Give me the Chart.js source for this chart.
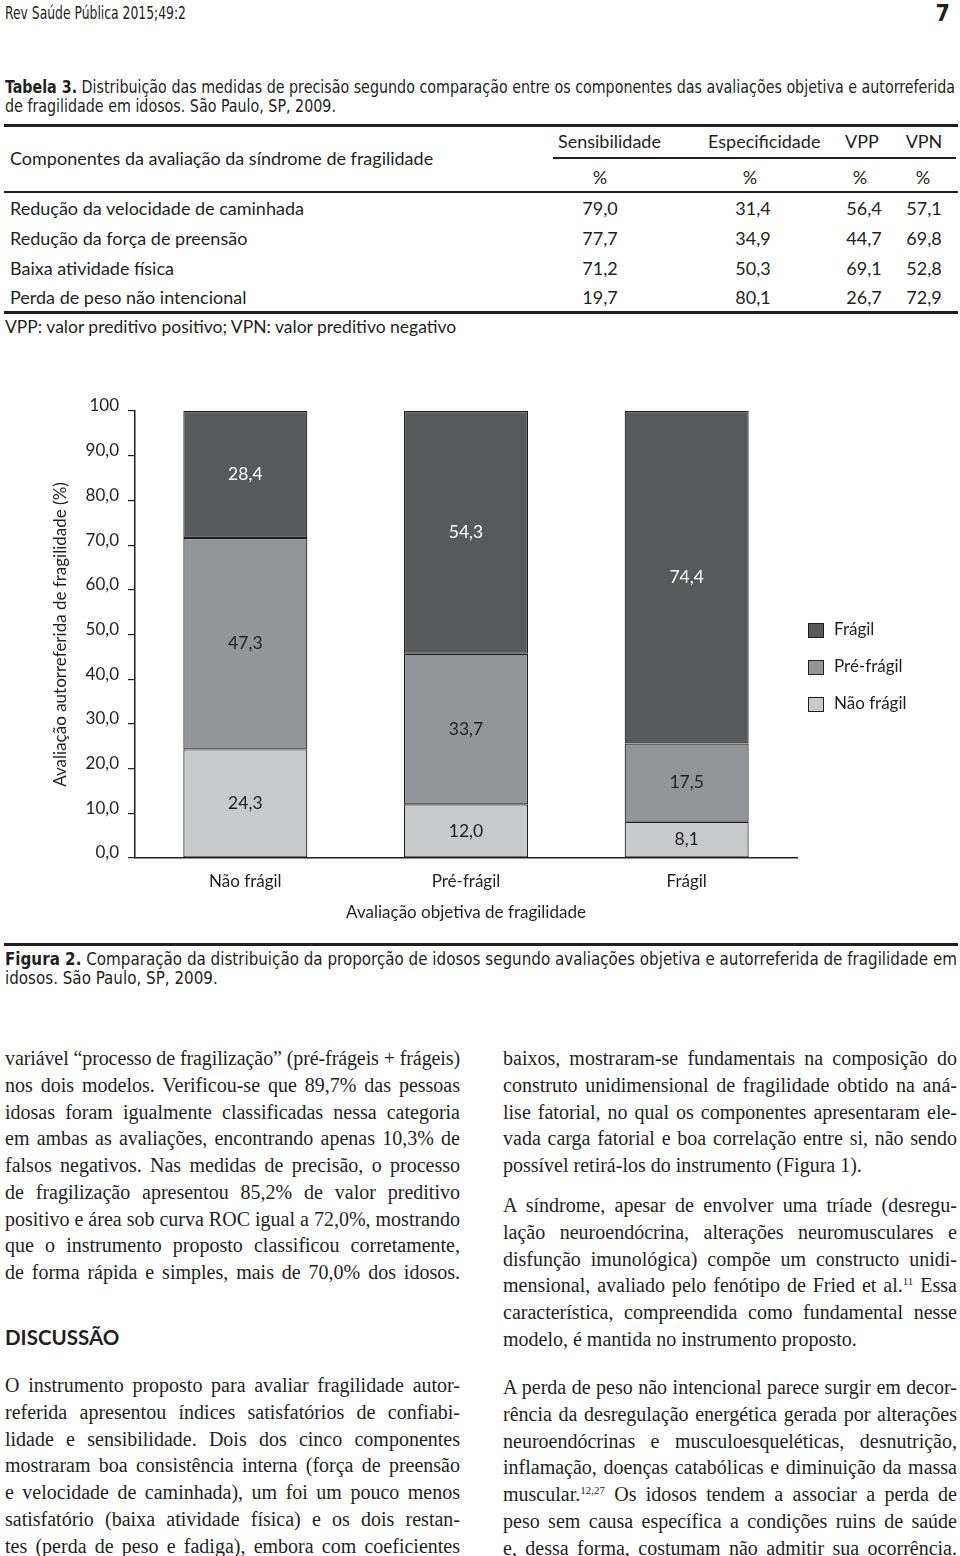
<!DOCTYPE html>
<html lang="pt">
<head>
<meta charset="utf-8">
<title>Figura 2 - fragilidade em idosos</title>
<script src="https://cdn.jsdelivr.net/npm/chart.js@4.4.1/dist/chart.umd.min.js"></script>
<style>
  body { margin: 0; width: 960px; height: 1556px; position: relative; overflow: hidden; background: #fff; color: #231f20; }
  .abs { position: absolute; }
  .cond { font-family: "Liberation Sans Narrow", "DejaVu Sans Condensed", sans-serif; }
  .hum { font-family: Lato, "Open Sans", sans-serif; }
  .serif { font-family: "Liberation Serif", "DejaVu Serif", serif; }
  .ln { white-space: nowrap; text-align: justify; text-align-last: justify; }
  .ln.end { text-align-last: left; }
  .rule { position: absolute; background: #231f20; }
  .tbl { font-size: 18px; line-height: 22px; }
  .num { position: absolute; width: 90px; text-align: center; }
  .col { position: absolute; font-size: 20px; line-height: 26.75px; }
  sup { font-size: 11px; line-height: 0; vertical-align: 7px; }
</style>
</head>
<body>

<!-- cabeçalho da página -->
<div class="abs cond" data-fitw="181" style="left:5px;top:3px;font-size:17px;line-height:20px;"><span>Rev Saúde Pública 2015;49:2</span></div>
<div class="abs cond" style="right:10px;top:1px;font-size:23px;line-height:24px;font-weight:bold;">7</div>

<!-- Tabela 3 -->
<div class="abs cond" data-fitw="950" style="left:5px;top:78px;width:950px;font-size:17.5px;line-height:19px;">
  <div class="ln"><span><b>Tabela 3.</b> Distribuição das medidas de precisão segundo comparação entre os componentes das avaliações objetiva e autorreferida</span></div>
  <div class="ln end"><span>de fragilidade em idosos. São Paulo, SP, 2009.</span></div>
</div>

<div class="rule" style="left:4px;top:124px;width:954px;height:3px;"></div>
<div class="rule" style="left:553px;top:157px;width:403px;height:1.5px;"></div>
<div class="rule" style="left:4px;top:191px;width:954px;height:2px;"></div>
<div class="rule" style="left:4px;top:311px;width:954px;height:3px;"></div>

<div class="hum tbl">
  <div class="abs" style="left:10px;top:147px;">Componentes da avaliação da síndrome de fragilidade</div>
  <div class="num" style="left:558px;top:130px;">Sensibilidade</div>
  <div class="num" style="left:708px;top:130px;">Especificidade</div>
  <div class="num" style="left:817px;top:130px;">VPP</div>
  <div class="num" style="left:879px;top:130px;">VPN</div>
  <div class="num" style="left:555px;top:166px;">%</div>
  <div class="num" style="left:705px;top:166px;">%</div>
  <div class="num" style="left:815px;top:166px;">%</div>
  <div class="num" style="left:878px;top:166px;">%</div>

  <div class="abs" style="left:10px;top:197px;">Redução da velocidade de caminhada</div>
  <div class="num" style="left:555px;top:197px;">79,0</div>
  <div class="num" style="left:708px;top:197px;">31,4</div>
  <div class="num" style="left:819px;top:197px;">56,4</div>
  <div class="num" style="left:879px;top:197px;">57,1</div>

  <div class="abs" style="left:10px;top:227px;">Redução da força de preensão</div>
  <div class="num" style="left:555px;top:227px;">77,7</div>
  <div class="num" style="left:708px;top:227px;">34,9</div>
  <div class="num" style="left:819px;top:227px;">44,7</div>
  <div class="num" style="left:879px;top:227px;">69,8</div>

  <div class="abs" style="left:10px;top:257px;">Baixa atividade física</div>
  <div class="num" style="left:555px;top:257px;">71,2</div>
  <div class="num" style="left:708px;top:257px;">50,3</div>
  <div class="num" style="left:819px;top:257px;">69,1</div>
  <div class="num" style="left:879px;top:257px;">52,8</div>

  <div class="abs" style="left:10px;top:286px;">Perda de peso não intencional</div>
  <div class="num" style="left:555px;top:286px;">19,7</div>
  <div class="num" style="left:708px;top:286px;">80,1</div>
  <div class="num" style="left:819px;top:286px;">26,7</div>
  <div class="num" style="left:879px;top:286px;">72,9</div>

  <div class="abs" style="left:5px;top:316px;font-size:17.5px;">VPP: valor preditivo positivo; VPN: valor preditivo negativo</div>
</div>

<!-- Figura 2 -->
<div class="abs" style="left:0;top:385px;width:960px;height:550px;">
  <canvas id="fig2"></canvas>
</div>

<div class="rule" style="left:4px;top:943px;width:954px;height:3px;"></div>
<div class="abs cond" data-fitw="952" style="left:5px;top:950px;width:952px;font-size:17.5px;line-height:19px;">
  <div class="ln"><span><b>Figura 2.</b> Comparação da distribuição da proporção de idosos segundo avaliações objetiva e autorreferida de fragilidade em</span></div>
  <div class="ln end"><span>idosos. São Paulo, SP, 2009.</span></div>
</div>

<!-- texto, coluna esquerda -->
<div class="col serif" style="left:5px;top:1045px;width:455px;">
  <div class="ln"><span>variável “processo de fragilização” (pré-frágeis + frágeis)</span></div>
  <div class="ln"><span>nos dois modelos. Verificou-se que 89,7% das pessoas</span></div>
  <div class="ln"><span>idosas foram igualmente classificadas nessa categoria</span></div>
  <div class="ln"><span>em ambas as avaliações, encontrando apenas 10,3% de</span></div>
  <div class="ln"><span>falsos negativos. Nas medidas de precisão, o processo</span></div>
  <div class="ln"><span>de fragilização apresentou 85,2% de valor preditivo</span></div>
  <div class="ln"><span>positivo e área sob curva ROC igual a 72,0%, mostrando</span></div>
  <div class="ln"><span>que o instrumento proposto classificou corretamente,</span></div>
  <div class="ln"><span>de forma rápida e simples, mais de 70,0% dos idosos.</span></div>
</div>

<div class="abs hum" style="left:5px;top:1325px;font-size:20.5px;line-height:24px;font-weight:bold;">DISCUSSÃO</div>

<div class="col serif" style="left:5px;top:1372px;width:455px;">
  <div class="ln"><span>O instrumento proposto para avaliar fragilidade autor-</span></div>
  <div class="ln"><span>referida apresentou índices satisfatórios de confiabi-</span></div>
  <div class="ln"><span>lidade e sensibilidade. Dois dos cinco componentes</span></div>
  <div class="ln"><span>mostraram boa consistência interna (força de preensão</span></div>
  <div class="ln"><span>e velocidade de caminhada), um foi um pouco menos</span></div>
  <div class="ln"><span>satisfatório (baixa atividade física) e os dois restan-</span></div>
  <div class="ln"><span>tes (perda de peso e fadiga), embora com coeficientes</span></div>
</div>

<!-- texto, coluna direita -->
<div class="col serif" style="left:503px;top:1045px;width:454px;">
  <div class="ln"><span>baixos, mostraram-se fundamentais na composição do</span></div>
  <div class="ln"><span>construto unidimensional de fragilidade obtido na aná-</span></div>
  <div class="ln"><span>lise fatorial, no qual os componentes apresentaram ele-</span></div>
  <div class="ln"><span>vada carga fatorial e boa correlação entre si, não sendo</span></div>
  <div class="ln end"><span>possível retirá-los do instrumento (Figura 1).</span></div>
</div>

<div class="col serif" style="left:503px;top:1192px;width:454px;">
  <div class="ln"><span>A síndrome, apesar de envolver uma tríade (desregu-</span></div>
  <div class="ln"><span>lação neuroendócrina, alterações neuromusculares e</span></div>
  <div class="ln"><span>disfunção imunológica) compõe um constructo unidi-</span></div>
  <div class="ln"><span>mensional, avaliado pelo fenótipo de Fried et al.<sup>11</sup> Essa</span></div>
  <div class="ln"><span>característica, compreendida como fundamental nesse</span></div>
  <div class="ln end"><span>modelo, é mantida no instrumento proposto.</span></div>
</div>

<div class="col serif" style="left:503px;top:1374px;width:454px;">
  <div class="ln"><span>A perda de peso não intencional parece surgir em decor-</span></div>
  <div class="ln"><span>rência da desregulação energética gerada por alterações</span></div>
  <div class="ln"><span>neuroendócrinas e musculoesqueléticas, desnutrição,</span></div>
  <div class="ln"><span>inflamação, doenças catabólicas e diminuição da massa</span></div>
  <div class="ln"><span>muscular.<sup>12,27</sup> Os idosos tendem a associar a perda de</span></div>
  <div class="ln"><span>peso sem causa específica a condições ruins de saúde</span></div>
  <div class="ln"><span>e, dessa forma, costumam não admitir sua ocorrência.</span></div>
</div>

<script>
// Dados da Figura 2 (% por avaliação objetiva)
const categories = ['Não frágil', 'Pré-frágil', 'Frágil'];
const naoFragil = [24.3, 12.0, 8.1];
const preFragil = [47.3, 33.7, 17.5];
const fragil = [28.4, 54.3, 74.4];
const yTickLabels = ['0,0', '10,0', '20,0', '30,0', '40,0', '50,0', '60,0', '70,0', '80,0', '90,0', '100'];

// Texto condensado: estreita o bloco inteiro pela largura da primeira linha
document.querySelectorAll('[data-fitw]').forEach(block => {
    const W = +block.dataset.fitw;
    const first = block.querySelector('span');
    first.style.display = 'inline-block';
    const natural = first.getBoundingClientRect().width;
    first.style.display = '';
    const s = W / natural;
    block.style.width = (W / s) + 'px';
    block.style.transformOrigin = '0 0';
    block.style.transform = 'scaleX(' + s + ')';
});

// Linhas do texto corrido que não cabem: aperta o espaçamento entre letras
document.querySelectorAll('.col .ln').forEach(el => {
    const span = el.firstElementChild;
    const target = el.clientWidth;
    const natural = span.getBoundingClientRect().width;
    if (natural > target) {
        const n = span.textContent.length;
        span.style.letterSpacing = ((target - natural) / n) + 'px';
    }
});

const ink = '#231f20';
const fontFamily = 'Lato, "Open Sans", sans-serif';

// Valores dentro de cada segmento da barra
const segmentLabels = {
    id: 'segmentLabels',
    afterDatasetsDraw(chart) {
        const ctx = chart.ctx;
        ctx.save();
        ctx.font = '17.5px ' + fontFamily;
        ctx.textAlign = 'center';
        ctx.textBaseline = 'middle';
        chart.data.datasets.forEach((ds, di) => {
            chart.getDatasetMeta(di).data.forEach((bar, i) => {
                ctx.fillStyle = ds.labelColor;
                ctx.fillText(ds.data[i].toFixed(1).replace('.', ','), bar.x, (bar.y + bar.base) / 2);
            });
        });
        ctx.restore();
    }
};

// Legenda à direita (ordem inversa: Frágil no topo)
const sideLegend = {
    id: 'sideLegend',
    afterDraw(chart) {
        const ctx = chart.ctx;
        const area = chart.chartArea;
        const x = area.right + 11;
        let y = area.top + 219;
        ctx.save();
        ctx.font = '17px ' + fontFamily;
        ctx.textBaseline = 'middle';
        chart.data.datasets.slice().reverse().forEach(ds => {
            ctx.fillStyle = ds.backgroundColor;
            ctx.fillRect(x, y - 7, 16, 15);
            ctx.strokeStyle = ink;
            ctx.lineWidth = 1;
            ctx.strokeRect(x + 0.5, y - 6.5, 15, 14);
            ctx.fillStyle = ink;
            ctx.fillText(ds.label, x + 26, y);
            y += 37;
        });
        ctx.restore();
    }
};

new Chart(document.getElementById('fig2'), {
    type: 'bar',
    data: {
        labels: categories,
        datasets: [
            { label: 'Não frágil', data: naoFragil, backgroundColor: '#c8c9cb', labelColor: ink },
            { label: 'Pré-frágil', data: preFragil, backgroundColor: '#939598', labelColor: ink },
            { label: 'Frágil', data: fragil, backgroundColor: '#58595b', labelColor: '#ffffff' }
        ].map(ds => Object.assign(ds, {
            borderColor: ink,
            borderWidth: 1.2,
            borderSkipped: false,
            barPercentage: 0.562,
            categoryPercentage: 1
        }))
    },
    options: {
        responsive: true,
        maintainAspectRatio: false,
        animation: false,
        layout: { padding: { top: 26, right: 163, bottom: 0, left: 0 } },
        plugins: {
            legend: { display: false },
            tooltip: { enabled: false }
        },
        scales: {
            x: {
                stacked: true,
                grid: { display: false, drawTicks: false },
                border: { display: true, color: ink, width: 1.5 },
                ticks: { color: ink, padding: 13, font: { family: fontFamily, size: 17 } },
                title: {
                    display: true,
                    text: 'Avaliação objetiva de fragilidade',
                    color: ink,
                    font: { family: fontFamily, size: 17 },
                    padding: { top: 4, bottom: 12 }
                },
                afterFit: scale => { scale.height = 77; }
            },
            y: {
                stacked: true,
                min: 0,
                max: 100,
                grid: { drawOnChartArea: false, drawTicks: true, tickLength: 7, color: ink, lineWidth: 1.2 },
                border: { display: true, color: ink, width: 1.5 },
                ticks: {
                    stepSize: 10,
                    padding: 9,
                    labelOffset: -5,
                    color: ink,
                    font: { family: fontFamily, size: 17 },
                    callback: (value, index) => yTickLabels[index]
                },
                title: {
                    display: true,
                    text: 'Avaliação autorreferida de fragilidade (%)',
                    color: ink,
                    font: { family: fontFamily, size: 17 },
                    padding: { top: 50, bottom: 0 }
                },
                afterFit: scale => { scale.width = 135; }
            }
        }
    },
    plugins: [segmentLabels, sideLegend]
});
</script>
</body>
</html>
